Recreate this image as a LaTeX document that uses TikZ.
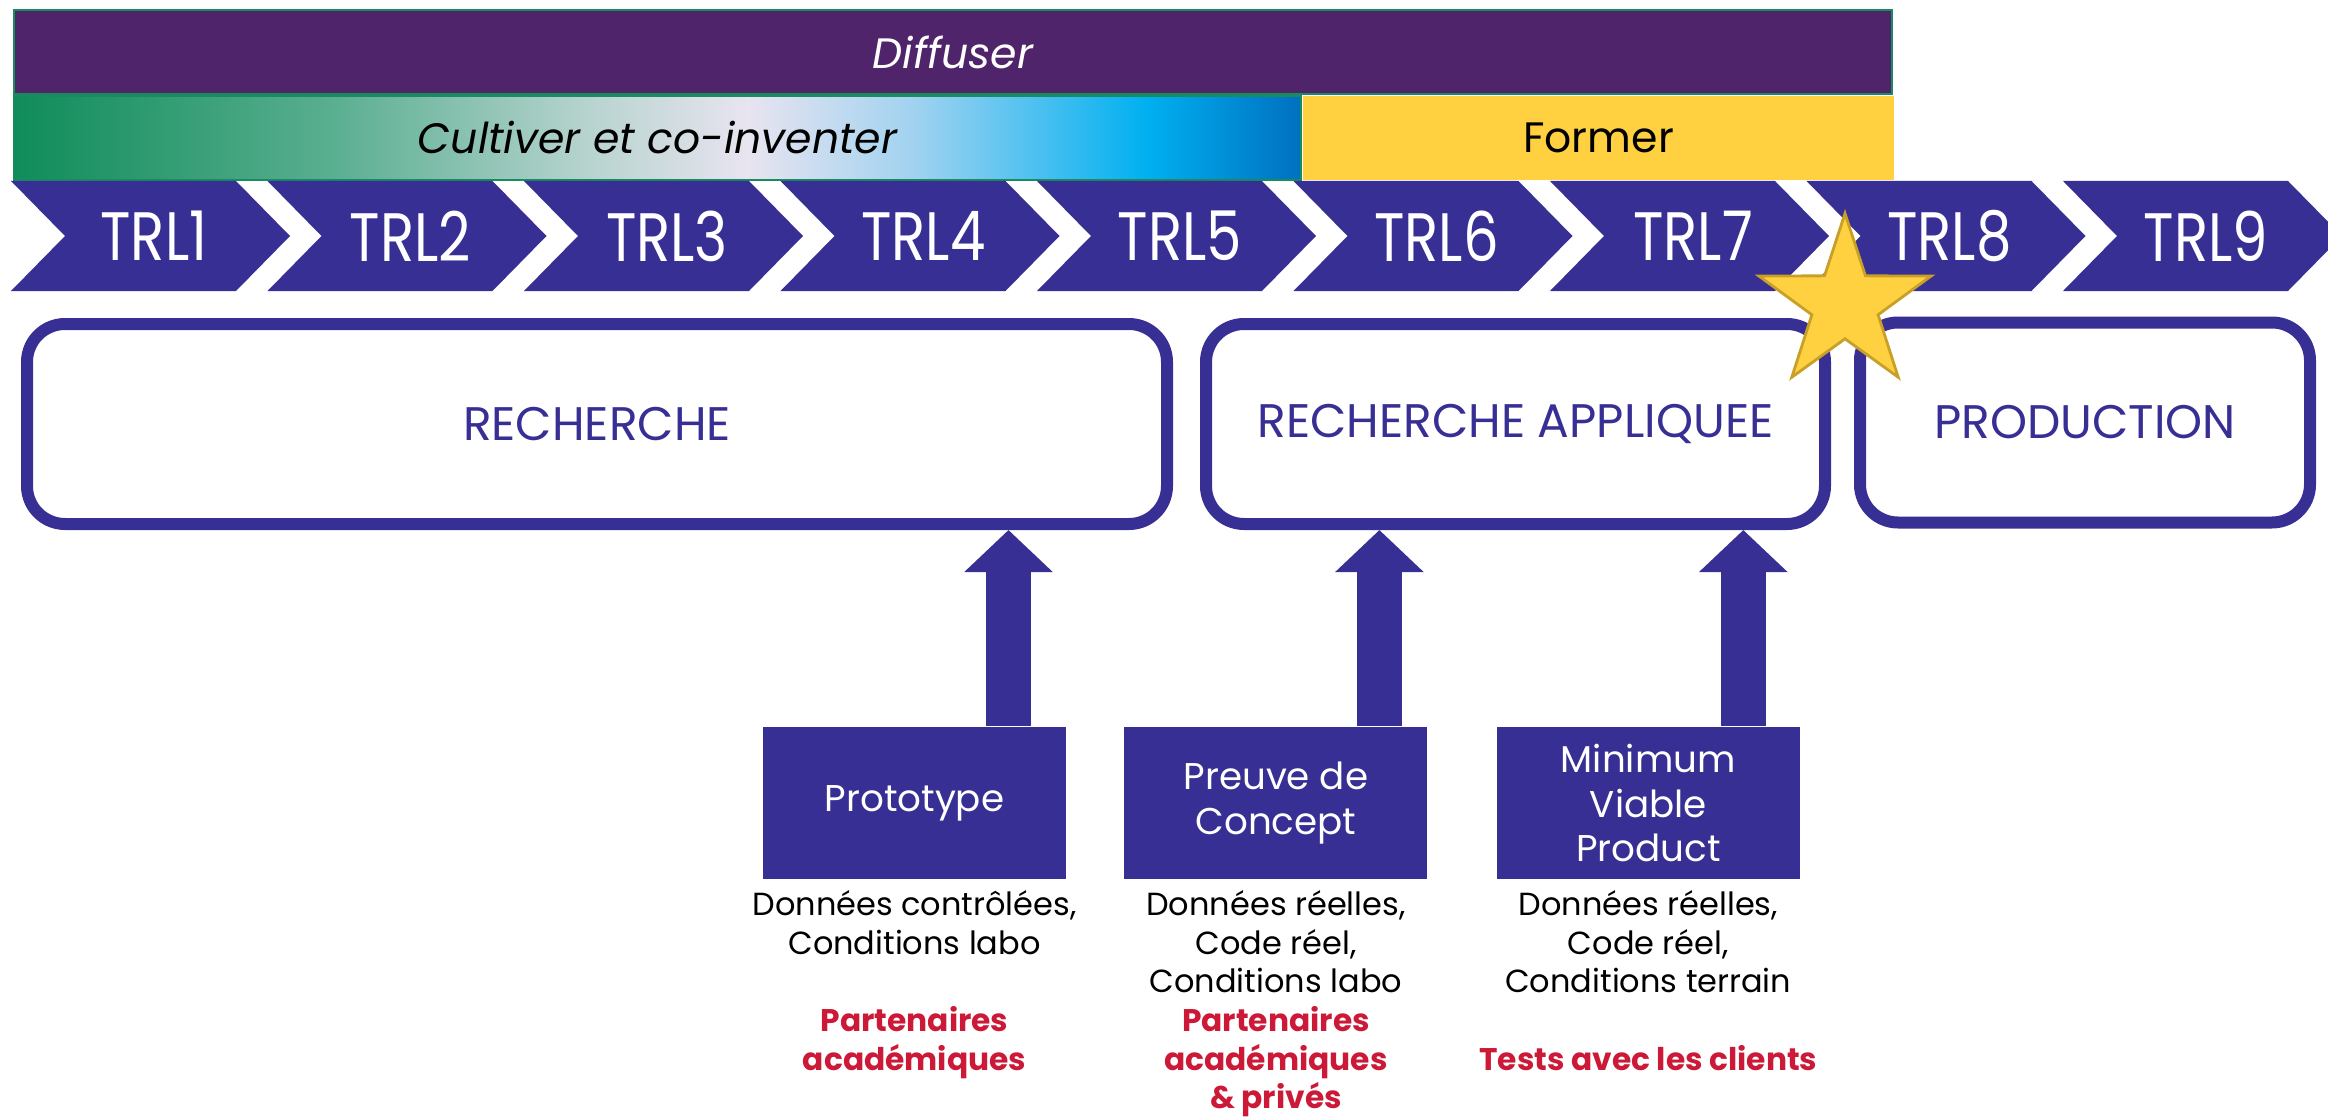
\documentclass[tikz,border=0pt]{standalone}
\usepackage{fontspec}
\setmainfont{Poppins}
\newfontfamily\trlfont[FakeStretch=0.82]{Poppins}
\usetikzlibrary{positioning,arrows.meta,shapes.geometric}

\definecolor{trlblue}{RGB}{56,47,148}
\definecolor{diffpurple}{RGB}{80,36,106}
\definecolor{barline}{RGB}{25,140,95}
\definecolor{formeryellow}{RGB}{255,209,64}
\definecolor{partred}{RGB}{204,25,55}
\definecolor{starfill}{RGB}{255,208,63}
\definecolor{stardraw}{RGB}{200,160,40}
\definecolor{gA}{RGB}{16,140,90}
\definecolor{gB}{RGB}{90,175,145}
\definecolor{gC}{RGB}{185,212,208}
\definecolor{gD}{RGB}{232,228,240}
\definecolor{gE}{RGB}{160,210,240}
\definecolor{gF}{RGB}{0,176,240}
\definecolor{gG}{RGB}{0,112,192}

\pgfdeclarehorizontalshading{cultgrad}{100bp}{color(0bp)=(gA); color(25bp)=(gA);
  color(37.5bp)=(gB); color(47.5bp)=(gC); color(53.5bp)=(gD); color(60bp)=(gE);
  color(69bp)=(gF); color(75bp)=(gG); color(100bp)=(gG)}

\newcommand{\partner}[1]{\textcolor{partred}{\bfseries\fontsize{8.9}{11}\selectfont #1}}

\tikzset{
    bar/.style={draw=barline, line width=0.6pt, inner sep=0, minimum height=0.84cm,
        font=\fontsize{12.1}{14}\selectfont},
    trl/.style={text=white, inner sep=0, font=\trlfont\fontsize{19.5}{20}\selectfont},
    stage/.style={draw=trlblue, line width=0.12cm, rounded corners=0.38cm,
        minimum height=2cm, text=trlblue, font=\fontsize{13.4}{16}\selectfont},
    deliv/.style={fill=trlblue, text=white, minimum width=3.03cm, minimum height=1.52cm,
        align=center, inner sep=0, font=\fontsize{10.6}{12.8}\selectfont},
    notes/.style={align=center, inner sep=0, font=\fontsize{9.1}{11}\selectfont},
    lift/.style={line width=0.45cm, trlblue, -{Triangle[width=0.86cm,length=0.42cm]}}
}

\begin{document}
\begin{tikzpicture}
    \useasboundingbox (0,0) rectangle (23.28,11.16);

    % top bars
    \node[bar, fill=diffpurple, text=white, minimum width=18.78cm, font=\itshape\fontsize{12.1}{14}\selectfont] (diffuser) at (9.53,10.64) {Diffuser};
    \node[bar, shade, shading=cultgrad, minimum width=12.87cm, font=\itshape\fontsize{12.1}{14}\selectfont] (cultiver) at (6.575,9.78) {Cultiver et co-inventer};
    \node[bar, draw=none, fill=formeryellow, minimum width=5.91cm, right=0pt of cultiver] (former) {Former};

    % TRL chevrons
    \foreach \i in {1,...,9}{
        \pgfmathsetmacro{\xo}{0.11+(\i-1)*2.565}
        \fill[trlblue] (\xo,9.35) -- ++(2.25,0) -- ++(0.54,-0.55) -- ++(-0.54,-0.55)
            -- ++(-2.25,0) -- ++(0.54,0.55) -- cycle;
        \node[trl] (trl\i) at (\xo+1.43,8.80) {TRL\i};
    }

    \node[stage, minimum width=11.40cm] (recherche) at (5.97,6.92) {RECHERCHE};
    \node[stage, minimum width=6.19cm] (appliquee) at (15.155,6.92) {RECHERCHE APPLIQUEE};
    \node[stage, minimum width=4.50cm] (production) at (20.85,6.935) {PRODUCTION};

    \node[deliv] (proto) at (9.145,3.13) {Prototype};
    \node[deliv, right=0.57cm of proto] (preuve) {Preuve de\\Concept};
    \node[deliv, right=0.68cm of preuve] (mvp) {Minimum\\Viable\\Product};

    \draw[lift] ([xshift=0.94cm]proto.north) -- ([xshift=0.94cm]proto.north |- recherche.south);
    \draw[lift] ([xshift=1.035cm]preuve.north) -- ([xshift=1.035cm]preuve.north |- appliquee.south);
    \draw[lift] ([xshift=0.95cm]mvp.north) -- ([xshift=0.95cm]mvp.north |- appliquee.south);

    \node[notes, below=0.1cm of proto] (protonotes) {Données contrôlées,\\Conditions labo\\[11pt]
        \partner{Partenaires}\\\partner{académiques}};
    \node[notes, below=0.1cm of preuve] (preuvenotes) {Données réelles,\\Code réel,\\Conditions labo\\
        \partner{Partenaires}\\\partner{académiques}\\\partner{\& privés}};
    \node[notes, below=0.1cm of mvp] (mvpnotes) {Données réelles,\\Code réel,\\Conditions terrain\\[11pt]
        \partner{Tests avec les clients}};

    \node[star, star points=5, star point ratio=2.6, minimum size=1.81cm, inner sep=0,
        fill=starfill, draw=stardraw, line width=0.8pt] (jalon) at (18.45,8.12) {};
\end{tikzpicture}
\end{document}
